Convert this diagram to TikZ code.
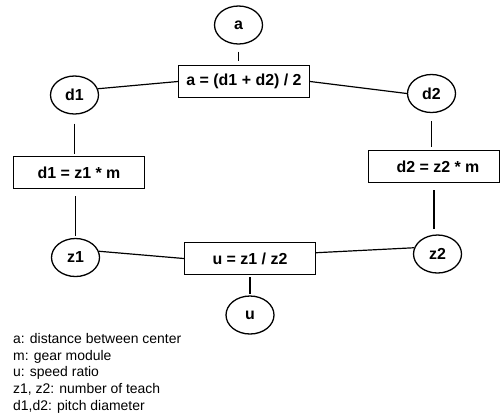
\documentclass[tikz,border=0pt]{standalone}
\usepackage{fontspec}
\setmainfont{Liberation Sans}
\usetikzlibrary{shapes.geometric}
\begin{document}
\begin{tikzpicture}[
    x=1bp, y=-1bp,
    var/.style={ellipse, draw, line width=1.3pt, minimum width=48bp, minimum height=38bp, inner sep=0pt, font=\bfseries\fontsize{16}{19}\selectfont},
    eqn/.style={rectangle, draw, line width=1.3pt, minimum width=131bp, minimum height=32bp, inner sep=0pt, font=\bfseries\fontsize{16}{19}\selectfont},
    link/.style={line width=1.2pt},
]
\useasboundingbox (0,0) rectangle (503,415);

\node[var] (A) at (238.5,25) {a};
\node[var] (D1) at (74.5,95) {d1};
\node[var] (D2) at (431.5,93.5) {d2};
\node[var] (Z1) at (75.5,257.5) {z1};
\node[var] (Z2) at (437.5,254) {z2};
\node[var] (U) at (250,315) {u};

\node[eqn] (CENTER) at (244,81.5) {a = (d1 + d2) / 2};
\node[eqn] (DIAM1) at (79,172.5) {d1 = z1 * m};
\node[eqn] (DIAM2) at (434,166.5) {\hspace{8bp}d2 = z2 * m};
\node[eqn] (RATIO) at (250,258.5) {u = z1 / z2};

\draw[link, shorten <=7bp, shorten >=4bp] (A.south) -- (A.south |- CENTER.north);
\draw[link] (D1.15) -- (CENTER.west);
\draw[link] (CENTER.east) -- (D2.west);
\draw[link, shorten <=9bp, shorten >=2bp] (D1.south) -- (D1.south |- DIAM1.north);
\draw[link, shorten <=7bp, shorten >=2bp] (Z1.north |- DIAM1.south) -- (Z1.north);
\draw[link, shorten <=8bp, shorten >=3bp] (D2.south) -- (D2.south |- DIAM2.north);
\draw[link, shorten <=7bp, shorten >=5bp] (DIAM2.south) -- (DIAM2.south |- Z2.north);
\draw[link] (Z1.15) -- (RATIO.west);
\draw[link] (RATIO.5) -- (Z2.165);
\draw[link, shorten <=2bp, shorten >=1bp] (RATIO.south) -- (U.north);

\node[anchor=north west, inner sep=0pt, align=left, font=\fontsize{14}{16.8}\selectfont] (LEGEND) at (13,333)
    {a: distance between center\\m: gear module\\u: speed ratio\\z1, z2: number of teach\\d1,d2: pitch diameter};
\end{tikzpicture}
\end{document}
